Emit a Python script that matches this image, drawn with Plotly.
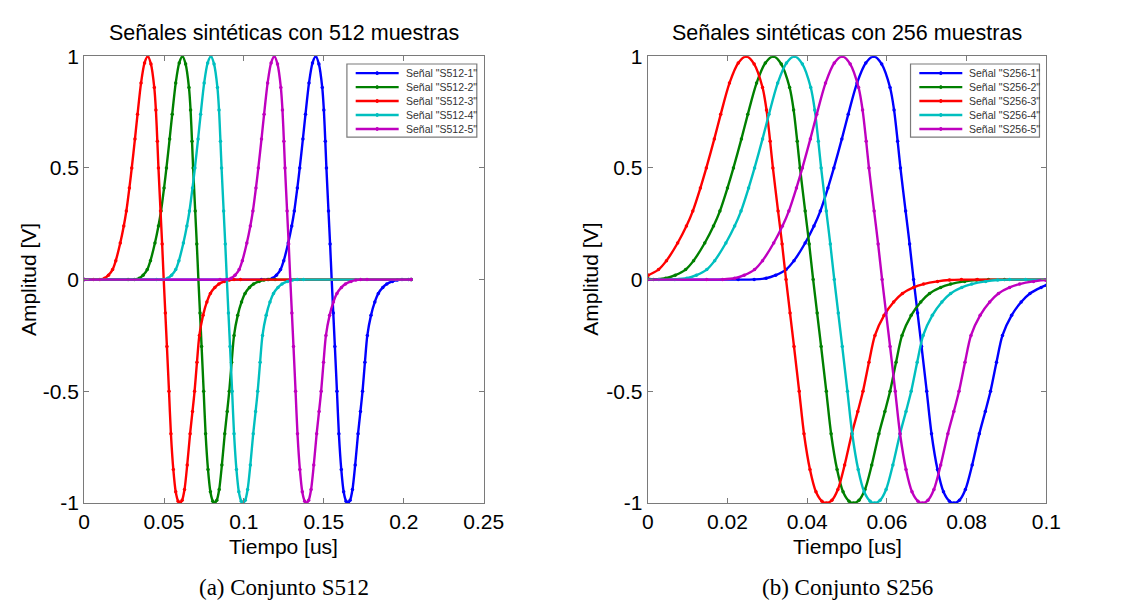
import plotly.graph_objects as go

# ---- data ----
# common pulse shape: time relative to the positive peak [us] and amplitude [V]
pulse_dt = [-0.0340, -0.0300, -0.0270, -0.0246, -0.0220, -0.0200, -0.0172, -0.0150,
            -0.0134, -0.0115, -0.0100, -0.0080, -0.0064, -0.0042, -0.0020, 0.0000,
            0.0020, 0.0041, 0.0051, 0.0060, 0.0067, 0.0080, 0.0090, 0.0100,
            0.0110, 0.0120, 0.0133, 0.0145, 0.0160, 0.0175, 0.0190, 0.0201,
            0.0215, 0.0230, 0.0247, 0.0265, 0.0280, 0.0293, 0.0308, 0.0323,
            0.0346, 0.0370, 0.0392, 0.0420, 0.0445, 0.0480, 0.0510, 0.0540, 0.0580]
pulse_amp = [0.000, 0.001, 0.006, 0.020, 0.045, 0.085, 0.164, 0.240,
             0.307, 0.410, 0.500, 0.630, 0.740, 0.880, 0.970, 1.000,
             0.965, 0.860, 0.760, 0.620, 0.500, 0.307, 0.160, 0.000,
             -0.150, -0.300, -0.500, -0.690, -0.850, -0.950, -0.992, -1.000,
             -0.988, -0.940, -0.830, -0.690, -0.590, -0.500, -0.370, -0.250,
             -0.160, -0.100, -0.062, -0.035, -0.020, -0.008, -0.002, 0.000, 0.000]

names_512 = ['Señal "S512-1"', 'Señal "S512-2"', 'Señal "S512-3"', 'Señal "S512-4"', 'Señal "S512-5"']
names_256 = ['Señal "S256-1"', 'Señal "S256-2"', 'Señal "S256-3"', 'Señal "S256-4"', 'Señal "S256-5"']
peaks_512 = [0.1449, 0.0615, 0.0398, 0.0793, 0.1190]   # time of positive peak [us]
peaks_256 = [0.0567, 0.0315, 0.0247, 0.0368, 0.0488]
start_256 = [0.000, 0.004, 0.020, 0.001, 0.000]          # value at t = 0
end_256 = [-0.025, 0.000, 0.000, 0.000, -0.003]          # value at t = 0.1
t_end_512 = 0.2046
t_end_256 = 0.1
x_ticks_512 = [0, 0.05, 0.1, 0.15, 0.2, 0.25]
x_ticks_256 = [0, 0.02, 0.04, 0.06, 0.08, 0.1]
y_ticks = [-1, -0.5, 0, 0.5, 1]
colors = ['#0000ff', '#008000', '#ff0000', '#00bfbf', '#bf00bf']

FONT = 'Liberation Sans, Arial, sans-serif'
SERIF = 'Liberation Serif, Times New Roman, serif'


def series(peak, t_end, v0, v1):
    xs, ys = [0.0], [v0]
    for d, a in zip(pulse_dt, pulse_amp):
        t = peak + d
        if 0.0 < t < t_end:
            xs.append(t)
            ys.append(a)
    xs.append(t_end)
    ys.append(v1)
    return xs, ys


fig = go.Figure()
for i in range(5):
    x, y = series(peaks_512[i], t_end_512, 0.0, 0.0)
    fig.add_trace(go.Scatter(x=x, y=y, name=names_512[i], mode='lines+markers', showlegend=False,
                             line=dict(color=colors[i], width=2.4, shape='spline', smoothing=0.8),
                             marker=dict(size=3.5, color=colors[i]),
                             xaxis='x', yaxis='y'))
for i in range(5):
    x, y = series(peaks_256[i], t_end_256, start_256[i], end_256[i])
    fig.add_trace(go.Scatter(x=x, y=y, name=names_256[i], mode='lines+markers', showlegend=False,
                             line=dict(color=colors[i], width=2.4, shape='spline', smoothing=0.8),
                             marker=dict(size=3.5, color=colors[i]),
                             xaxis='x2', yaxis='y2'))

W, H = 1121, 616
L1, R1 = 80, 489
L2, R2 = 657, 1065
TOP, BOT = 46, 510

axis_common = dict(showgrid=False, zeroline=False, showline=True, linecolor='#7a7a7a',
                   linewidth=1.2, mirror='ticks', ticks='inside', ticklen=5, tickcolor='#7a7a7a',
                   tickfont=dict(family=FONT, size=21, color='black'))


def fmt(v):
    return ('%g' % v)


fig.update_layout(
    width=W, height=H, margin=dict(l=0, r=0, t=0, b=0),
    paper_bgcolor='white', plot_bgcolor='white', showlegend=False,
    xaxis=dict(domain=[L1 / W, R1 / W], range=[0, 0.25], tickvals=x_ticks_512,
               ticktext=[fmt(v) for v in x_ticks_512], anchor='y', **axis_common),
    yaxis=dict(domain=[1 - BOT / H, 1 - TOP / H], range=[-1, 1], tickvals=y_ticks,
               ticktext=[fmt(v) for v in y_ticks], anchor='x', **axis_common),
    xaxis2=dict(domain=[L2 / W, R2 / W], range=[0, 0.1], tickvals=x_ticks_256,
                ticktext=[fmt(v) for v in x_ticks_256], anchor='y2', **axis_common),
    yaxis2=dict(domain=[1 - BOT / H, 1 - TOP / H], range=[-1, 1], tickvals=y_ticks,
                ticktext=[fmt(v) for v in y_ticks], anchor='x2', **axis_common),
)

ann = []
shapes = []
panels = [((L1 + R1) / 2, 'Señales sintéticas con 512 muestras', '(a) Conjunto S512', 23, 349, 482, names_512),
          ((L2 + R2) / 2, 'Señales sintéticas con 256 muestras', '(b) Conjunto S256', 598, 926, 1058, names_256)]
for cx, title, cap, yl_x, lg_l, lg_r, names in panels:
    ann.append(dict(x=cx / W, y=1 - 22 / H, xref='paper', yref='paper', text=title, showarrow=False,
                    font=dict(family=FONT, size=21.5, color='black'), xanchor='center', yanchor='middle'))
    ann.append(dict(x=cx / W, y=1 - 555 / H, xref='paper', yref='paper', text='Tiempo [us]', showarrow=False,
                    font=dict(family=FONT, size=21, color='black'), xanchor='center', yanchor='middle'))
    ann.append(dict(x=cx / W, y=1 - 598 / H, xref='paper', yref='paper', text=cap, showarrow=False,
                    font=dict(family=SERIF, size=23, color='black'), xanchor='center', yanchor='middle'))
    ann.append(dict(x=yl_x / W, y=1 - 278 / H, xref='paper', yref='paper', text='Amplitud [V]', showarrow=False,
                    textangle=-90, font=dict(family=FONT, size=21, color='black'),
                    xanchor='center', yanchor='middle'))
    # legend box (drawn by hand to match the compact MATLAB legend)
    shapes.append(dict(type='rect', xref='paper', yref='paper', x0=lg_l / W, x1=lg_r / W,
                       y0=1 - 130 / H, y1=1 - 54 / H, line=dict(color='#7a7a7a', width=1.2),
                       fillcolor='white', layer='above'))
    for k in range(5):
        yy = 63.5 + 14.5 * k
        shapes.append(dict(type='line', xref='paper', yref='paper', x0=(lg_l + 9) / W, x1=(lg_l + 53) / W,
                           y0=1 - yy / H, y1=1 - yy / H, line=dict(color=colors[k], width=2.4), layer='above'))
        shapes.append(dict(type='circle', xref='paper', yref='paper', x0=(lg_l + 29.5) / W, x1=(lg_l + 32.5) / W,
                           y0=1 - (yy + 1.5) / H, y1=1 - (yy - 1.5) / H, line=dict(color=colors[k], width=1),
                           fillcolor=colors[k], layer='above'))
        ann.append(dict(x=(lg_l + 58) / W, y=1 - yy / H, xref='paper', yref='paper', text=names[k],
                        showarrow=False, xanchor='left', yanchor='middle',
                        font=dict(family=FONT, size=10.5, color='#333333')))
fig.update_layout(annotations=ann, shapes=shapes)

fig.write_html('out.html')
